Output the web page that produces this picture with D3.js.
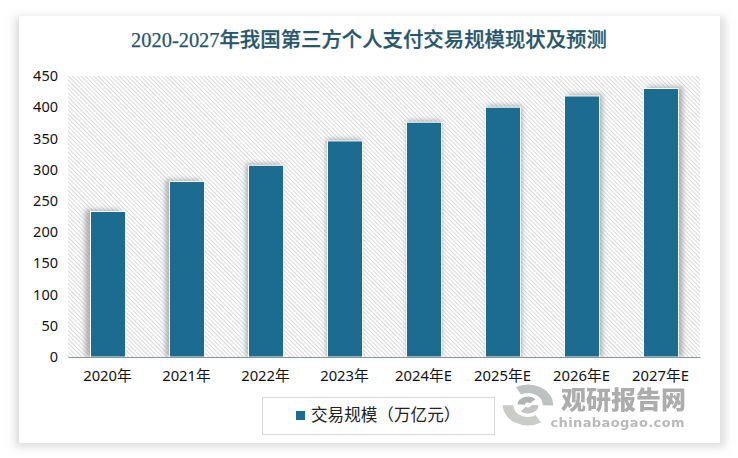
<!DOCTYPE html>
<html><head><meta charset="utf-8">
<script src="https://cdn.jsdelivr.net/npm/d3@7"></script>
<style>html,body{margin:0;padding:0;background:#fff}svg{display:block}</style></head>
<body><svg id="c" width="738" height="458"></svg>
<script>
const categories=["2020年","2021年","2022年","2023年","2024年E","2025年E","2026年E","2027年E"];
const values=[233,281,307,346,376,400,418,430];
const yTicks=[0,50,100,150,200,250,300,350,400,450];
const titleText="2020-2027年我国第三方个人支付交易规模现状及预测";
const legendText="交易规模（万亿元）";
const siteName="观研报告网";
const siteUrl="chinabaogao.com";
const sans="'Noto Sans','Noto Sans CJK SC',sans-serif";
const W=738,H=458,m={l:68,r:700,t:76,b:357};
const svg=d3.select("#c");
const defs=svg.append("defs");
const hatch=defs.append("pattern").attr("id","hatch").attr("width",3).attr("height",3)
 .attr("patternUnits","userSpaceOnUse").attr("patternTransform","rotate(-45)");
hatch.append("rect").attr("width",3).attr("height",3).attr("fill","#fff");
hatch.append("rect").attr("width",1).attr("height",3).attr("fill","#dadada");
defs.append("filter").attr("id","cardBlur").attr("x","-5%").attr("y","-5%").attr("width","110%").attr("height","110%")
 .append("feGaussianBlur").attr("stdDeviation",4);
defs.append("filter").attr("id","barBlur").attr("x","-40%").attr("y","-10%").attr("width","180%").attr("height","120%")
 .append("feGaussianBlur").attr("stdDeviation",2.4);

svg.append("rect").attr("x",15).attr("y",17).attr("width",710).attr("height",430).attr("fill","#c4c4c4").attr("opacity",.6).attr("filter","url(#cardBlur)");
svg.append("rect").attr("x",19).attr("y",16).attr("width",701).attr("height",427).attr("fill","#fff");

svg.append("text").attr("x",369).attr("y",47).attr("text-anchor","middle")
 .attr("font-family","'Liberation Serif','Noto Sans CJK SC',serif").attr("font-size",20.4).attr("font-weight",500)
 .attr("stroke","#27566b").attr("stroke-width",.25)
 .attr("fill","#27566b").text(titleText);

const x=d3.scaleBand().domain(categories).range([m.l,m.r]).paddingInner(.557).paddingOuter(.2785);
const y=d3.scaleLinear().domain([0,450]).range([m.b,m.t]);
svg.append("rect").attr("x",m.l).attr("y",m.t).attr("width",m.r-m.l).attr("height",m.b-m.t).attr("fill","url(#hatch)");

const cx=(m.l+m.r)/2;
defs.append("clipPath").attr("id","plotClip").append("rect").attr("x",m.l).attr("y",m.t-6).attr("width",m.r-m.l).attr("height",m.b-m.t+6);
const shadowG=svg.append("g").attr("clip-path","url(#plotClip)");
shadowG.selectAll("rect").data(categories).join("rect")
 .attr("x",d=>x(d)+(x(d)+x.bandwidth()/2-cx)*.018)
 .attr("width",x.bandwidth())
 .attr("y",(d,i)=>y(values[i])-2)
 .attr("height",(d,i)=>m.b-y(values[i])+2)
 .attr("fill","#8f8f8f").attr("opacity",.65).attr("filter","url(#barBlur)");
svg.append("g").selectAll("rect").data(categories).join("rect")
 .attr("x",d=>x(d)+.5).attr("width",x.bandwidth())
 .attr("y",(d,i)=>y(values[i])).attr("height",(d,i)=>m.b-y(values[i]))
 .attr("fill","#1c6b90").attr("stroke","#f2fbfb").attr("stroke-width",1);

const yAxis=svg.append("g").attr("transform",`translate(${m.l},0)`).call(d3.axisLeft(y).tickValues(yTicks).tickSize(0).tickPadding(10));
yAxis.select(".domain").remove();
yAxis.selectAll("text").attr("font-family",sans).attr("font-size",14.5).attr("fill","#111");
const xAxis=svg.append("g").attr("transform",`translate(0,${m.b})`).call(d3.axisBottom(x).tickSize(0).tickPadding(13));
xAxis.select(".domain").attr("stroke","#8a9499").attr("stroke-width",1);
xAxis.selectAll("text").attr("font-family",sans).attr("font-size",14.8).attr("fill","#111");

svg.append("rect").attr("x",262.5).attr("y",397.5).attr("width",232).attr("height",37).attr("fill","#fff").attr("stroke","#d9d9d9");
svg.append("rect").attr("x",296).attr("y",411).attr("width",9).attr("height",9).attr("fill","#1c6b90");
svg.append("text").attr("x",311).attr("y",421).attr("font-family","'Noto Sans CJK SC',sans-serif").attr("font-size",16.6).attr("fill","#222").text(legendText);

// watermark
const wm=svg.append("g").attr("opacity",.92);
const logo=wm.append("g").attr("transform","translate(528,405)").attr("fill","none");
const arc=d3.arc();
[[14,24,-0.5,1.6,"#b9bcbc"],[14,24,2.6,4.7,"#c6c8c4"],[3,10,-1.5,0.8,"#a9adad"],[3,10,1.6,3.9,"#bfc1bd"]].forEach(a=>{
 logo.append("path").attr("d",arc({innerRadius:a[0],outerRadius:a[1],startAngle:a[2],endAngle:a[3]})).attr("fill",a[4]).attr("transform","scale(1.05,.85)");
});
wm.append("text").attr("x",686).attr("y",409).attr("text-anchor","end").attr("font-family","'Noto Sans CJK SC',sans-serif").attr("font-weight",900).attr("font-size",25).attr("fill","#a5a6a6").text(siteName);
wm.append("text").attr("x",685).attr("y",427).attr("text-anchor","end").attr("font-family","'DejaVu Sans',sans-serif").attr("font-weight",700).attr("font-size",13).attr("letter-spacing",.4).attr("fill","#b3b5b5").text(siteUrl);
</script></body></html>
